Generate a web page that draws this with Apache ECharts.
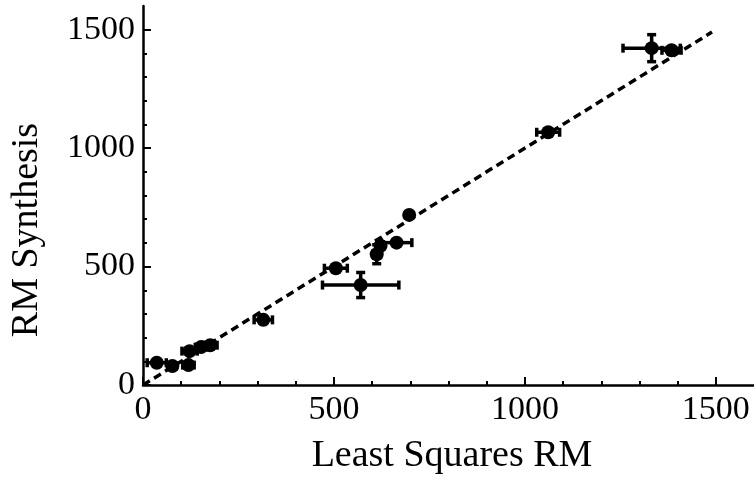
<!DOCTYPE html>
<html>
<head>
<meta charset="utf-8">
<script src="https://cdn.jsdelivr.net/npm/echarts@6/dist/echarts.min.js"></script>
<style>
  html, body { margin: 0; padding: 0; background: #fff; }
  #chart { width: 754px; height: 483px; }
</style>
</head>
<body>
<div id="chart"></div>
<script>
// Rotation measure: least-squares fit vs. RM synthesis, with 1-sigma errors
const rmLsq       = [36, 77, 119, 122, 152, 176, 315, 505, 570, 612, 622, 664, 697, 1061, 1332, 1384];
const rmSynth     = [94, 80, 84, 143, 160, 168, 275, 493, 422, 552, 588, 601, 718, 1067, 1422, 1413];
const rmLsqErr    = [25, 10, 15, 20, 15, 18, 24, 30, 100, 10, 10, 40, 8, 30, 75, 25];
const rmSynthErr  = [8, 8, 8, 10, 8, 8, 15, 10, 53, 40, 15, 10, 10, 8, 57, 10];

// One-to-one reference line
const unityX = [0, 1490];
const unityY = [0, 1490];

// Axis ticks
const majorTicks = [0, 500, 1000, 1500];
const minorTicks = [100, 200, 300, 400, 600, 700, 800, 900, 1100, 1200, 1300, 1400];
const axisMax = 1600;

const FONT = '"Liberation Serif", "DejaVu Serif", serif';

const points = rmLsq.map((x, i) => [x, rmSynth[i], rmLsqErr[i], rmSynthErr[i]]);
const unity = unityX.map((x, i) => [x, unityY[i]]);

function baseAxis(extra) {
  return Object.assign({
    type: 'value', min: 0, max: axisMax,
    splitLine: { show: false },
    axisLine: { show: true, onZero: false, lineStyle: { color: '#000', width: 2.5 } },
    axisTick: { show: true, inside: true, customValues: minorTicks, length: 4,
                lineStyle: { color: '#000', width: 2 } },
    axisLabel: { show: true, customValues: majorTicks, color: '#000',
                 fontFamily: FONT, fontSize: 34, margin: 8,
                 formatter: v => String(v) }
  }, extra || {});
}

function majorTickAxis(extra) {
  return Object.assign({
    type: 'value', min: 0, max: axisMax,
    splitLine: { show: false },
    axisLine: { show: false },
    axisLabel: { show: false },
    axisTick: { show: true, inside: true, customValues: majorTicks, length: 8,
                lineStyle: { color: '#000', width: 2 } }
  }, extra || {});
}

const chart = echarts.init(document.getElementById('chart'), null, { renderer: 'canvas' });

chart.setOption({
  animation: false,
  backgroundColor: '#fff',
  grid: { left: 143, right: 0, top: 6, bottom: 98, containLabel: false },
  xAxis: [
    baseAxis({ position: 'bottom' }),
    majorTickAxis({ position: 'bottom' })
  ],
  yAxis: [
    baseAxis({ position: 'left' }),
    majorTickAxis({ position: 'left' })
  ],
  graphic: [
    { type: 'text', x: 452, y: 437,
      style: { text: 'Least Squares RM', fontFamily: FONT, fontSize: 38, fill: '#000',
               align: 'center', verticalAlign: 'top' } },
    { type: 'text', x: 8, y: 230, rotation: Math.PI / 2,
      style: { text: 'RM Synthesis', fontFamily: FONT, fontSize: 38, fill: '#000',
               align: 'center', verticalAlign: 'top' } }
  ],
  series: [
    {
      type: 'line', data: unity, showSymbol: false, silent: true, z: 1,
      lineStyle: { color: '#000', width: 3.5, type: [8, 5] }
    },
    {
      type: 'custom', data: points, z: 2,
      renderItem: function (params, api) {
        const x = api.value(0), y = api.value(1), ex = api.value(2), ey = api.value(3);
        const l = api.coord([x - ex, y]), r = api.coord([x + ex, y]);
        const b = api.coord([x, y - ey]), t = api.coord([x, y + ey]);
        const cap = 4.5;
        const style = { stroke: '#000', lineWidth: 3.5 };
        const seg = (x1, y1, x2, y2) => ({ type: 'line', shape: { x1, y1, x2, y2 }, style });
        return {
          type: 'group',
          children: [
            seg(l[0], l[1], r[0], r[1]),
            seg(l[0], l[1] - cap, l[0], l[1] + cap),
            seg(r[0], r[1] - cap, r[0], r[1] + cap),
            seg(b[0], b[1], t[0], t[1]),
            seg(b[0] - cap, b[1], b[0] + cap, b[1]),
            seg(t[0] - cap, t[1], t[0] + cap, t[1])
          ]
        };
      }
    },
    {
      type: 'scatter', data: points, z: 3,
      symbol: 'circle', symbolSize: 14,
      itemStyle: { color: '#000', opacity: 1 }
    }
  ]
});
</script>
</body>
</html>
